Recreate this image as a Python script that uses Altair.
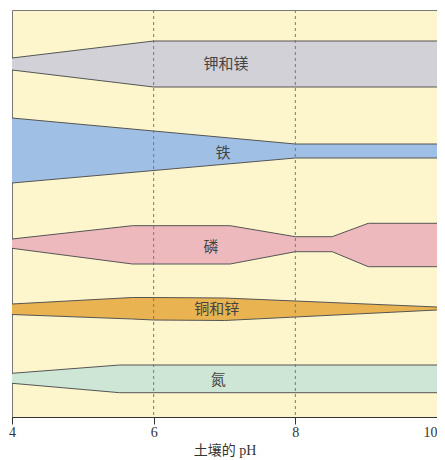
import altair as alt
import pandas as pd

# ---- data (y values are band edges on an arbitrary vertical scale, top=10, bottom=417) ----
bands = ["钾和镁", "铁", "磷", "铜和锌", "氮"]
colors = ["#D1D1D7", "#9FBFE5", "#EDB9BD", "#E8B350", "#CEE6D5"]

km_x = [4, 6, 10]
km_top = [58, 41, 41]
km_bot = [70, 87, 87]

fe_x = [4, 8, 10]
fe_top = [118, 144, 144]
fe_bot = [183, 158, 158]

p_x = [4, 5.7, 7.08, 8, 8.52, 9.03, 10]
p_top = [239, 225.7, 225.7, 236.7, 236.7, 223.3, 223.3]
p_bot = [248.3, 264, 264, 251.7, 251.7, 266.7, 266.7]

cz_x = [4, 5.7, 6, 7, 10]
cz_top = [304, 297.5, 297.5, 298, 307]
cz_bot = [314.5, 319, 320, 320.5, 310]

n_x = [4, 5.52, 10]
n_top = [373.3, 365, 365]
n_bot = [383.3, 392.7, 392.7]

label_x = [7.02, 6.98, 6.81, 6.89, 6.91]
label_y = [64, 153, 247, 309, 380]

ph_ticks = [4, 6, 8, 10]
dashed_x = [6, 8]

# ---- build tables ----
rows = []
for name, xs, ts, bs in zip(
    bands,
    [km_x, fe_x, p_x, cz_x, n_x],
    [km_top, fe_top, p_top, cz_top, n_top],
    [km_bot, fe_bot, p_bot, cz_bot, n_bot],
):
    for x, t, b in zip(xs, ts, bs):
        rows.append({"band": name, "ph": x, "top": t, "bottom": b})
df = pd.DataFrame(rows)
labels = pd.DataFrame({"band": bands, "ph": label_x, "y": label_y})
rules = pd.DataFrame({"ph": dashed_x})

xscale = alt.Scale(domain=[4, 10], nice=False, zero=False)
yscale = alt.Scale(domain=[10, 417], reverse=True, nice=False, zero=False)

xaxis = alt.Axis(
    values=ph_ticks, grid=False, tickSize=7, tickColor="#333", domainColor="#333",
    labelFontSize=14, labelFont="Liberation Serif", labelColor="#333", labelFlush=False,
    labelAlign=alt.expr("datum.value == 10 ? 'right' : 'center'"),
    labelPadding=1, format="d",
    title="土壤的 pH", titleFontSize=14, titleFont="Liberation Serif, Noto Sans CJK SC",
    titleFontWeight="normal", titleColor="#333", titlePadding=4,
)

base = alt.Chart(df)

areas = base.mark_area(opacity=1).encode(
    x=alt.X("ph:Q", scale=xscale, axis=xaxis),
    y=alt.Y("top:Q", scale=yscale, axis=None),
    y2="bottom:Q",
    color=alt.Color("band:N", scale=alt.Scale(domain=bands, range=colors), legend=None),
)

top_line = base.mark_line(color="#555", strokeWidth=1).encode(
    x=alt.X("ph:Q", scale=xscale), y=alt.Y("top:Q", scale=yscale), detail="band:N"
)
bot_line = base.mark_line(color="#555", strokeWidth=1).encode(
    x=alt.X("ph:Q", scale=xscale), y=alt.Y("bottom:Q", scale=yscale), detail="band:N"
)

rule_layer = alt.Chart(rules).mark_rule(color="#777", strokeDash=[3, 3], strokeWidth=1).encode(
    x=alt.X("ph:Q", scale=xscale)
)

text_layer = alt.Chart(labels).mark_text(
    font="Noto Sans CJK SC", fontSize=15, color="#444"
).encode(
    x=alt.X("ph:Q", scale=xscale), y=alt.Y("y:Q", scale=yscale), text="band:N"
)

chart = (
    alt.layer(areas, top_line, bot_line, rule_layer, text_layer)
    .properties(
        width=425, height=407, autosize="none",
        padding={"left": 4, "top": 2, "right": 0, "bottom": 42},
    )
    .configure_view(fill="#FDF6CD", stroke="#777", strokeWidth=1)
)

chart.save("out.html", embed_options={"renderer": "svg", "actions": False})
